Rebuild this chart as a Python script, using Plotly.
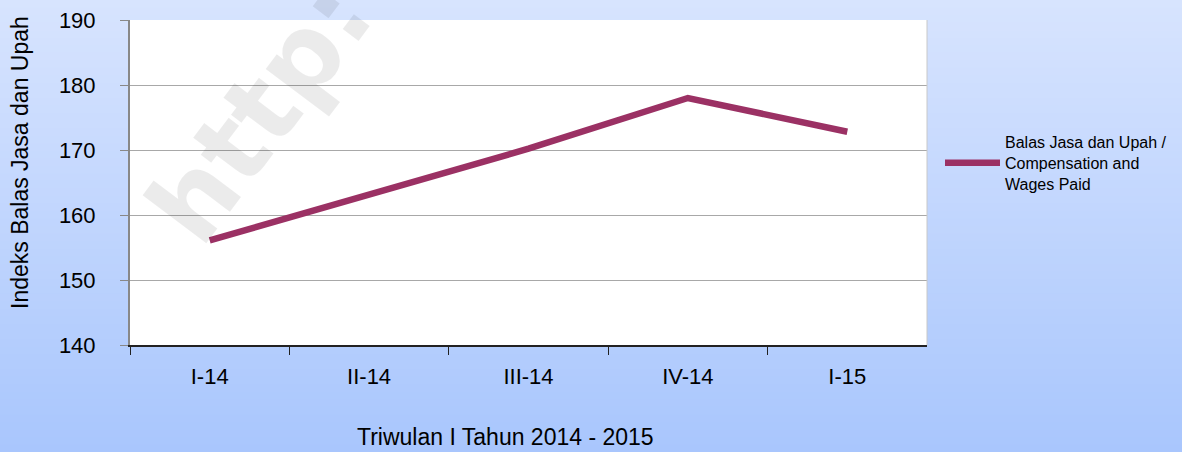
import plotly.graph_objects as go

categories = ["I-14", "II-14", "III-14", "IV-14", "I-15"]
values = [156.1, 163.1, 170.2, 178.0, 172.8]
series_name = "Balas Jasa dan Upah /<br>Compensation and<br>Wages Paid"
y_ticks = [140, 150, 160, 170, 180, 190]
x_title = "Triwulan I Tahun 2014 - 2015"
y_title = "Indeks Balas Jasa dan Upah"

W, H = 1182, 452
PL, PR, PT, PB = 130, 927, 20, 345  # plot area in px

fig = go.Figure()
fig.add_trace(go.Scatter(
    x=categories, y=values, mode="lines", name=series_name,
    line=dict(color="#9b3164", width=6.5),
))

# background gradient bands
shapes = []
n = 60
top = (0xd7, 0xe4, 0xfe)
bot = (0xa9, 0xc6, 0xfd)
for i in range(n):
    t = i / (n - 1)
    c = tuple(round(top[k] + (bot[k] - top[k]) * t) for k in range(3))
    shapes.append(dict(type="rect", xref="paper", yref="paper", layer="below",
                       x0=0, x1=1, y1=1 - i / n, y0=1 - (i + 1) / n - 0.002,
                       line=dict(width=0), fillcolor="rgb(%d,%d,%d)" % c))
shapes.append(dict(type="rect", xref="x domain", yref="y domain", layer="below",
                   x0=0, x1=1, y0=0, y1=1, line=dict(width=0), fillcolor="white"))
shapes.append(dict(type="line", xref="x domain", yref="y domain", layer="above",
                   x0=1, x1=1, y0=0, y1=1, line=dict(width=1, color="#c8c8c8")))

fig.update_layout(
    width=W, height=H,
    margin=dict(l=0, r=0, t=0, b=0),
    paper_bgcolor="#c0d5fd", plot_bgcolor="white",
    shapes=shapes,
    font=dict(family="Liberation Sans, Arial, sans-serif", color="black"),
    xaxis=dict(
        domain=[PL / W, PR / W], type="category", range=[-0.5, 4.5],
        tickson="boundaries", ticks="outside", ticklen=8, tickcolor="#222",
        showline=True, linecolor="#222", linewidth=1.5, showgrid=False,
        tickfont=dict(size=22), automargin=False, ticklabelstandoff=11,
    ),
    yaxis=dict(
        domain=[1 - PB / H, 1 - PT / H], range=[140, 190], tickvals=y_ticks,
        ticks="outside", ticklen=8, tickcolor="#888",
        showline=True, linecolor="#888", linewidth=2,
        showgrid=True, gridcolor="#a8a8a8", gridwidth=1, zeroline=False,
        tickfont=dict(size=22), automargin=False, ticklabelstandoff=20,
    ),
    showlegend=True,
    legend=dict(x=940 / W, y=1 - 125 / H, xanchor="left", yanchor="top",
                itemwidth=55,
                bgcolor="rgba(0,0,0,0)", font=dict(size=16)),
    annotations=[
        dict(text="<b>http:</b>", xref="paper", yref="paper",
             x=260 / W, y=1 - 112 / H, xanchor="center", yanchor="middle",
             showarrow=False, textangle=-53,
             font=dict(size=105, family="DejaVu Sans", color="rgba(0,0,0,0.08)")),
        dict(text=x_title, xref="paper", yref="paper", x=505 / W, y=1 - 437 / H,
             xanchor="center", yanchor="middle", showarrow=False,
             font=dict(size=23)),
        dict(text=y_title, xref="paper", yref="paper", x=20 / W, y=1 - 163 / H,
             xanchor="center", yanchor="middle", showarrow=False, textangle=-90,
             font=dict(size=23)),
    ],
)

fig.write_html("out.html", config={"displayModeBar": False},
               post_script="document.body.style.margin='0';document.body.style.overflow='hidden';")
